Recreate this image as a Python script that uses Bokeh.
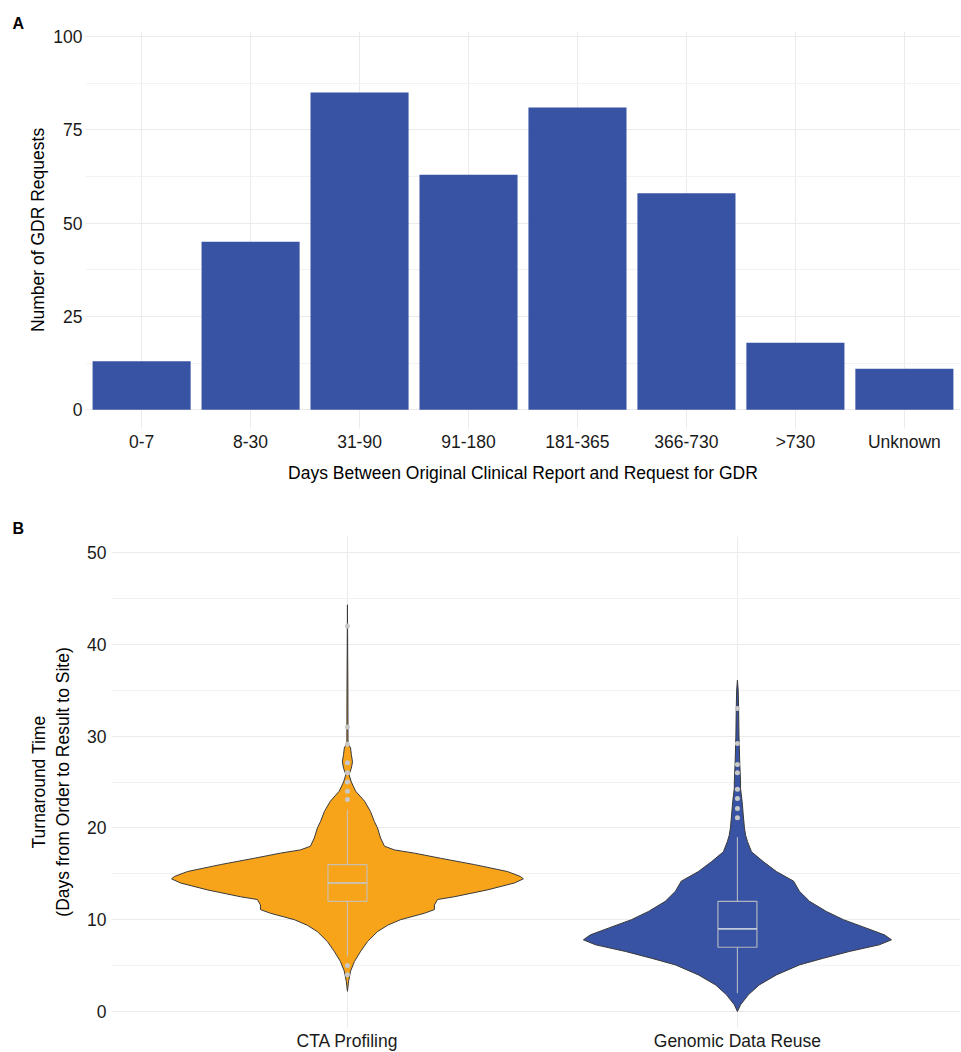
import numpy as np
from bokeh.plotting import figure
from bokeh.models import Range1d, FixedTicker, SingleIntervalTicker, Title
from bokeh.embed import file_html
from bokeh.resources import INLINE

# ---------------- data: panel A ----------------
categories_a = ["0-7", "8-30", "31-90", "91-180", "181-365", "366-730", ">730", "Unknown"]
requests_a = [13, 45, 85, 63, 81, 58, 18, 11]

# ---------------- data: panel B ----------------
groups_b = ["CTA Profiling", "Genomic Data Reuse"]
# violin outlines: day value and half-width (in category units)
cta_days = [2.2, 3.3, 4.4, 5.45, 6.5, 7.6, 8.7, 9.4, 10.0, 10.7, 11.1, 11.6, 12.2, 12.5,
            13.25, 14.0, 14.45, 14.7, 15.25, 16.0, 16.7, 17.25, 17.6, 18.0, 18.9, 20.0,
            20.7, 21.8, 22.9, 24.0, 25.0, 25.8, 26.5, 27.2, 28.0, 28.7, 29.2, 35.0, 44.3]
cta_halfwidth = [0.0, 0.003, 0.008, 0.018, 0.033, 0.051, 0.077, 0.103, 0.136, 0.197, 0.223,
                 0.223, 0.231, 0.274, 0.359, 0.428, 0.451, 0.444, 0.410, 0.326, 0.238, 0.172,
                 0.121, 0.095, 0.085, 0.077, 0.069, 0.059, 0.044, 0.021, 0.010, 0.004, 0.010,
                 0.013, 0.010, 0.008, 0.0015, 0.0012, 0.0]
gdr_days = [0.0, 0.73, 1.82, 2.9, 3.99, 5.08, 5.81, 6.54, 7.27, 7.81, 8.35, 9.08, 10.0, 10.9,
            12.0, 13.1, 14.2, 15.25, 16.3, 17.4, 18.5, 19.2, 20.0, 21.4, 22.9, 24.3, 25.0,
            27.0, 30.0, 33.0, 35.0, 36.1]
gdr_halfwidth = [0.0, 0.008, 0.028, 0.056, 0.100, 0.159, 0.221, 0.287, 0.364, 0.395, 0.377,
                 0.331, 0.272, 0.228, 0.185, 0.159, 0.144, 0.100, 0.067, 0.036, 0.026, 0.021,
                 0.018, 0.015, 0.012, 0.008, 0.008, 0.006, 0.004, 0.003, 0.002, 0.0]
box_q1 = [12, 7]
box_median = [14, 9]
box_q3 = [16, 12]
whisker_low = [6, 2]
whisker_high = [22, 19]
cta_outliers = [42, 31, 29.1, 27.1, 26, 25, 24, 23.1, 5, 4]
gdr_outliers = [33, 29.2, 26.9, 26, 24.2, 23.2, 22.1, 21.1]

# ---------------- style ----------------
FONT = "Liberation Sans"
BLUE = "#3853A4"
ORANGE = "#F7A41B"
GRID = "#EBEBEB"
MINOR = "#F2F2F2"
TXT = "#1A1A1A"
TICK_FS = "17.5px"
TITLE_FS = "17.5px"


def style(p):
    p.background_fill_color = "white"
    p.border_fill_color = "white"
    p.outline_line_color = None
    for ax in (p.xaxis, p.yaxis):
        ax.axis_line_color = None
        ax.major_tick_line_color = None
        ax.minor_tick_line_color = None
        ax.major_tick_out = 0
        ax.major_tick_in = 0
        ax.minor_tick_out = 0
        ax.minor_tick_in = 0
        ax.major_label_text_font = FONT
        ax.major_label_text_font_size = TICK_FS
        ax.major_label_text_color = TXT
        ax.axis_label_text_font = FONT
        ax.axis_label_text_font_size = TITLE_FS
        ax.axis_label_text_font_style = "normal"
        ax.axis_label_text_color = "black"
    p.xgrid.grid_line_color = GRID
    p.ygrid.grid_line_color = GRID
    p.ygrid.minor_grid_line_color = MINOR


def panel_title(p, text, offset):
    p.add_layout(Title(text=text, align="left", offset=offset, standoff=0,
                       text_font=FONT, text_font_style="bold", text_font_size="16px",
                       text_color="black"), "above")


# ---------------- panel A ----------------
xa = np.arange(1, len(categories_a) + 1)
pA = figure(frame_width=875, frame_height=397,
            x_range=Range1d(0.485, 8.515), y_range=Range1d(-5, 101.34),
            output_backend="svg", toolbar_location=None,
            min_border_left=85, min_border_right=0, min_border_top=31, min_border_bottom=56)
pA.vbar(x=xa, top=requests_a, bottom=0, width=0.9, fill_color=BLUE, line_color=None)
style(pA)
pA.xaxis.ticker = FixedTicker(ticks=[float(v) for v in xa])
pA.xaxis.major_label_overrides = {float(v): c for v, c in zip(xa, categories_a)}
pA.yaxis.ticker = SingleIntervalTicker(interval=25, num_minor_ticks=2)
pA.xaxis.major_label_standoff = 3
pA.yaxis.major_label_standoff = 3
pA.xaxis.axis_label = "Days Between Original Clinical Report and Request for GDR"
pA.yaxis.axis_label = "Number of GDR Requests"
pA.xaxis.axis_label_standoff = 8
pA.yaxis.axis_label_standoff = 2
panel_title(pA, "A", -73)

# ---------------- panel B ----------------
pB = figure(frame_width=849, frame_height=491,
            x_range=Range1d(0.395, 2.572), y_range=Range1d(-1.74, 51.74),
            output_backend="svg", toolbar_location=None,
            min_border_left=111, min_border_right=0, min_border_top=51, min_border_bottom=22)
style(pB)

xb = np.arange(1, len(groups_b) + 1)
violins = [(cta_days, cta_halfwidth, ORANGE), (gdr_days, gdr_halfwidth, BLUE)]
for cx, (d, hw, col) in zip(xb, violins):
    d = np.asarray(d, float)
    hw = np.asarray(hw, float)
    px = np.concatenate([cx - hw, (cx + hw)[::-1]])
    py = np.concatenate([d, d[::-1]])
    pB.patch(px, py, fill_color=col, line_color="#3A3A3A", line_width=1)

BOXC = "#C4C4C4"
bw = 0.05
pB.segment(x0=xb, x1=xb, y0=box_q3, y1=whisker_high, line_color=BOXC, line_width=1.2, line_alpha=0.85)
pB.segment(x0=xb, x1=xb, y0=box_q1, y1=whisker_low, line_color=BOXC, line_width=1.2, line_alpha=0.85)
pB.quad(left=xb - bw, right=xb + bw, bottom=box_q1, top=box_q3,
        fill_color=None, line_color=BOXC, line_width=1.2, line_alpha=0.85)
pB.segment(x0=xb - bw, x1=xb + bw, y0=box_median, y1=box_median,
           line_color="#BFCADB", line_width=1.6)
pB.scatter(x=[xb[0]] * len(cta_outliers), y=cta_outliers, size=5,
           fill_color="#C8C8C8", line_color=None)
pB.scatter(x=[xb[1]] * len(gdr_outliers), y=gdr_outliers, size=5,
           fill_color="#C8C8C8", line_color=None)

pB.xaxis.ticker = FixedTicker(ticks=[float(v) for v in xb])
pB.xaxis.major_label_overrides = {float(v): g for v, g in zip(xb, groups_b)}
pB.yaxis.ticker = SingleIntervalTicker(interval=10, num_minor_ticks=2)
pB.xaxis.major_label_standoff = 3
pB.yaxis.major_label_standoff = 5
pB.yaxis.axis_label = "Turnaround Time\n(Days from Order to Result to Site)"
pB.yaxis.axis_label_standoff = 11
panel_title(pB, "B", -99)

open("out.html", "w").write(file_html([pA, pB], INLINE))
